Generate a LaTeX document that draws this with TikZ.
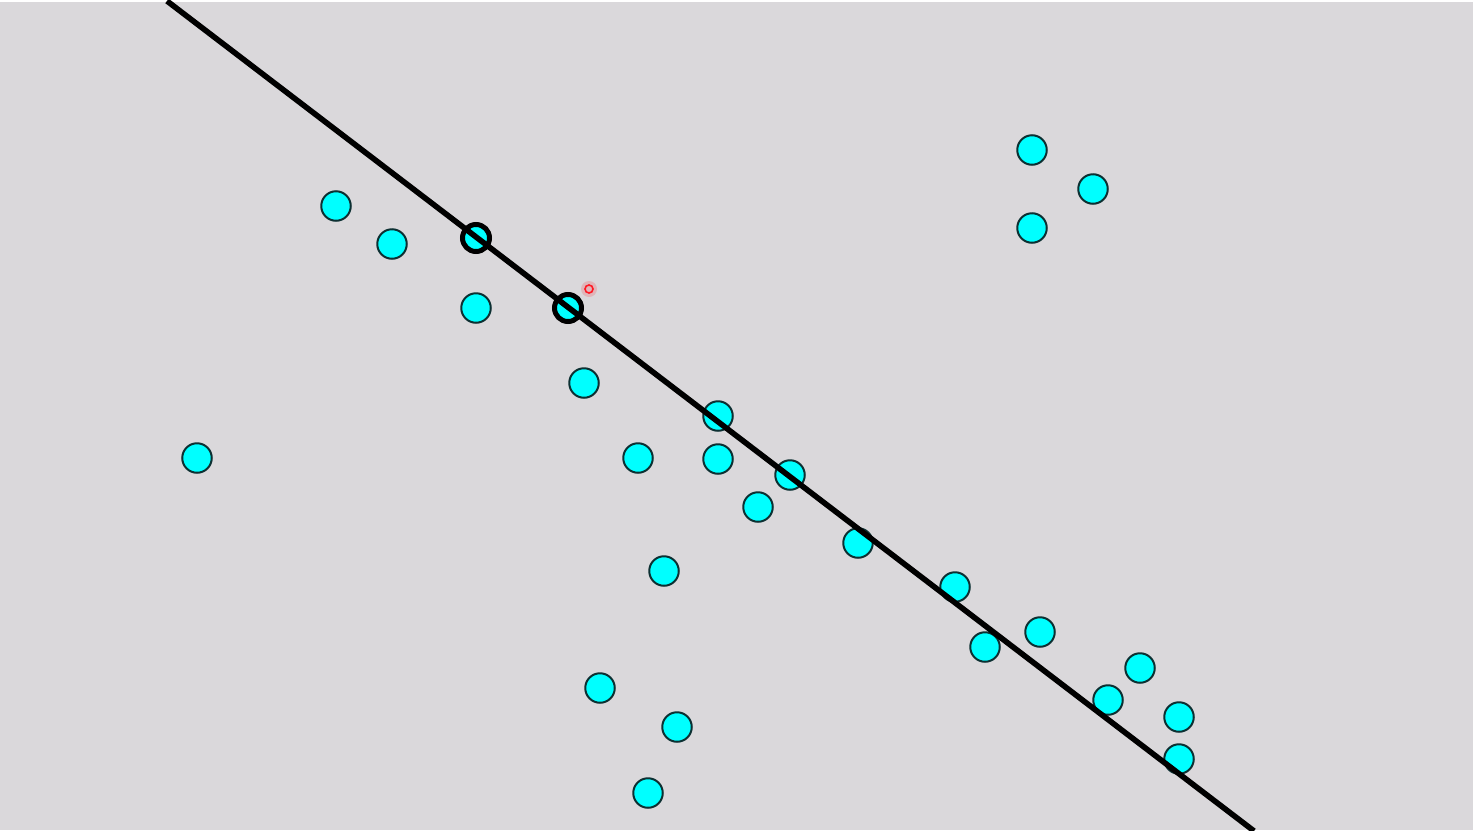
\documentclass[tikz,border=0pt]{standalone}
\begin{document}
\begin{tikzpicture}[x=1pt,y=-1pt,
  pt/.style={circle,draw=ptedge,fill=ptfill,line width=2pt,inner sep=0pt,minimum size=29.5pt},
  hl/.style={circle,draw=black,fill=ptfill,line width=5pt,inner sep=0pt,minimum size=27pt},
  fitline/.style={line width=5.6pt,draw=black}]
\definecolor{bg}{RGB}{218,216,219}
\definecolor{ptfill}{RGB}{0,255,255}
\definecolor{ptedge}{RGB}{12,48,50}
\definecolor{redpt}{RGB}{255,25,35}
\useasboundingbox (0,0) rectangle (1479,830);
\fill[white] (0,0) rectangle (1479,830);
\fill[bg] (0,1.5) rectangle (1473,830);
% data points
\foreach \x/\y [count=\i] in {336/206,392/244,476/308,584/383,197/458,638/458,718/416,718/459,790/475,758/507,858/543,664/571,955/587,985/647,1040/632,1140/668,1108/700,1179/717,1179/759,600/688,677/727,648/793,1032/150,1093/189,1032/228}
  \node[pt] (p\i) at (\x,\y) {};
% highlighted points
\node[hl] (h1) at (476,238) {};
\node[hl] (h2) at (568,308) {};
% fitted line
\coordinate (ltop) at (167,1);
\coordinate (lbot) at (1254,831);
\draw[fitline] (ltop) -- (lbot);
% red marker
\fill[redpt,opacity=0.18] (589,289) circle (8);
\node[circle,draw=redpt,line width=1.6pt,inner sep=0pt,minimum size=8pt] (red) at (589,289) {};
\end{tikzpicture}
\end{document}
